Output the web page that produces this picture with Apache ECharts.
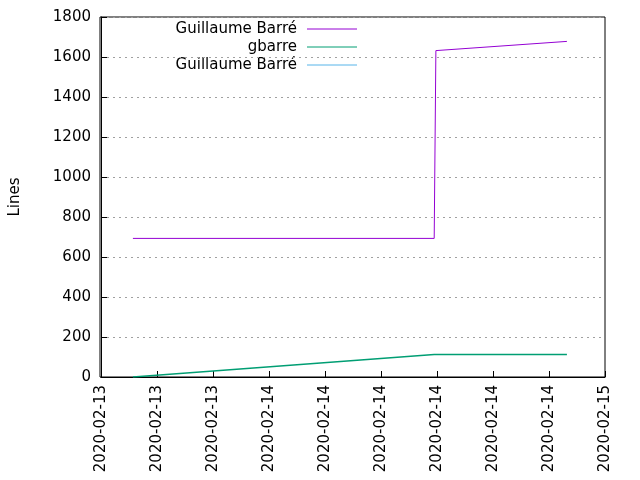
<!DOCTYPE html>
<html><head><meta charset="utf-8">
<script src="https://cdn.jsdelivr.net/npm/echarts@6/dist/echarts.min.js"></script>
<style>html,body{margin:0;background:#fff}#c{width:640px;height:480px}</style></head>
<body><div id="c"></div>
<script>
const tickLabels = ['2020-02-13','2020-02-13','2020-02-13','2020-02-14','2020-02-14','2020-02-14','2020-02-14','2020-02-14','2020-02-14','2020-02-15'];
const seriesNames = ['Guillaume Barré','gbarre','Guillaume Barré'];
const purpleX = [0.57, 5.95, 5.98, 8.32];
const purpleY = [693, 693, 1632, 1678];
const greenX = [0.57, 5.95, 8.32];
const greenY = [0, 112, 112];
const colors = ['#9400d3','#009e73','#56b4e9'];
const font = 'DejaVu Sans, sans-serif';
const zip = (a,b)=>a.map((v,i)=>[v,b[i]]);
const chart = echarts.init(document.getElementById('c'));
const legendG = [];
seriesNames.forEach((n,i)=>{
  const y = 29 + i*18;
  legendG.push({type:'text',x:297,y:y,style:{text:n,font:'15px '+font,fill:'#000',textAlign:'right',textVerticalAlign:'middle'}});
  legendG.push({type:'line',shape:{x1:307,y1:y,x2:357,y2:y},style:{stroke:colors[i],lineWidth:1}});
});
chart.setOption({
  animation:false,
  grid:{left:100,right:35,top:17,bottom:103},
  xAxis:{type:'value',min:0,max:9,interval:1,
    axisLine:{show:true,onZero:false,lineStyle:{color:'#000'}},
    axisTick:{inside:true,length:6,lineStyle:{color:'#000'}},
    axisLabel:{rotate:90,color:'#000',fontSize:15,fontFamily:font,margin:8,formatter:(v)=>tickLabels[Math.round(v)]},
    splitLine:{show:false}},
  yAxis:{type:'value',min:0,max:1800,interval:200,name:'Lines',nameLocation:'middle',nameGap:78,
    nameTextStyle:{color:'#000',fontSize:15,fontFamily:font},
    axisLine:{show:true,lineStyle:{color:'#000'}},
    axisTick:{inside:true,length:6,lineStyle:{color:'#000'}},
    axisLabel:{color:'#000',fontSize:15,fontFamily:font,margin:10,formatter:(v)=>String(v)},
    splitLine:{show:true,lineStyle:{color:'#a0a0a0',type:[2,4]}}},
  graphic:[{type:'rect',shape:{x:100,y:17,width:505,height:360},style:{fill:'none',stroke:'#000',lineWidth:1},silent:true}].concat(legendG),
  series:[
    {name:seriesNames[0],type:'line',data:zip(purpleX,purpleY),showSymbol:false,lineStyle:{color:colors[0],width:1}},
    {name:seriesNames[1],type:'line',data:zip(greenX,greenY),showSymbol:false,lineStyle:{color:colors[1],width:1.5}},
    {name:seriesNames[2],type:'line',data:[],showSymbol:false,lineStyle:{color:colors[2],width:1}}
  ]
});
</script></body></html>
